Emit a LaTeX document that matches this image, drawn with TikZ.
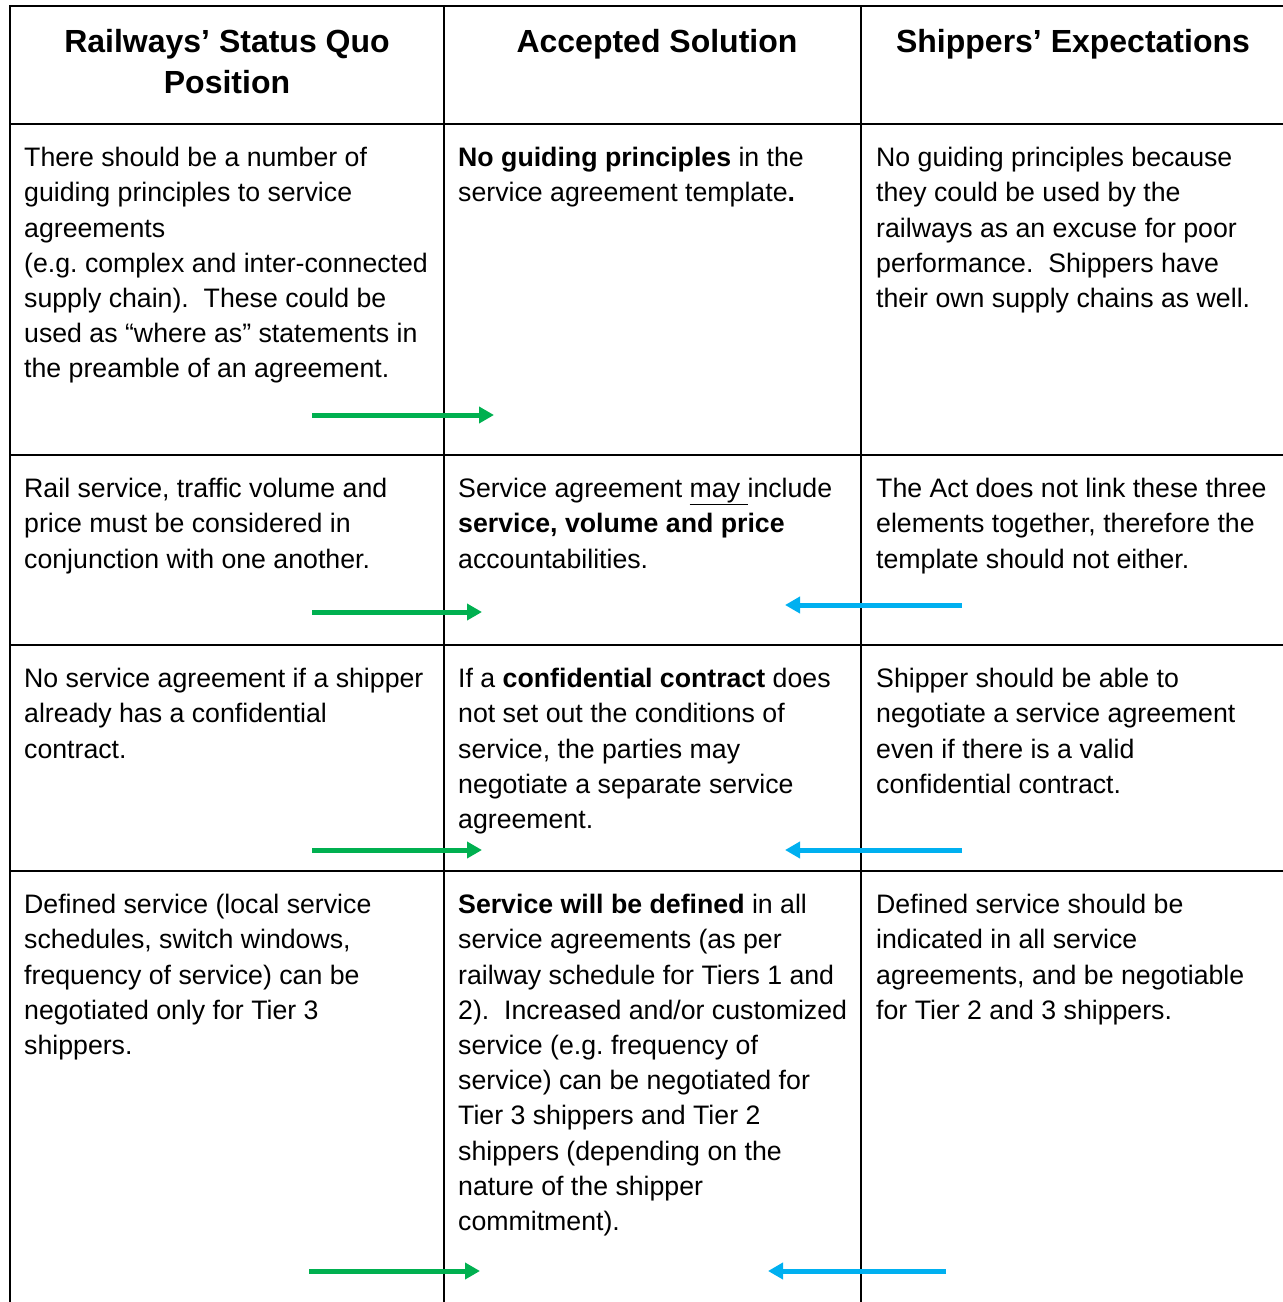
\documentclass[tikz,border=0pt]{standalone}
\usepackage{fontspec}
\setmainfont{Liberation Sans}
\usetikzlibrary{arrows.meta}
\definecolor{arrgreen}{RGB}{0,176,80}
\definecolor{arrblue}{RGB}{0,176,240}
\frenchspacing
\tikzset{
  grid/.style={line width=2pt, black},
  head/.style={inner sep=0pt, anchor=north, align=center, font=\fontsize{32}{41}\selectfont\bfseries},
  cell/.style={inner sep=0pt, anchor=north west, align=left, font=\fontsize{26.7}{35.2}\selectfont},
  garrow/.style={draw=arrgreen, line width=5pt, -{Triangle[length=15pt,width=16pt]}},
  barrow/.style={draw=arrblue, line width=5pt, -{Triangle[length=15pt,width=16pt]}}
}
\newcommand{\fs}{\rule{0pt}{20pt}}
\newcommand{\hs}{\rule{0pt}{25pt}}
\begin{document}
\begin{tikzpicture}[x=1pt,y=-1pt]
\useasboundingbox (0,0) rectangle (1283,1302);
% grid
\draw[grid] (10,1302) -- (10,6) -- (1283,6);
\draw[grid] (444,6) -- (444,1302);
\draw[grid] (861,6) -- (861,1302);
\draw[grid] (10,124) -- (1283,124);
\draw[grid] (10,455) -- (1283,455);
\draw[grid] (10,645) -- (1283,645);
\draw[grid] (10,871) -- (1283,871);
% headers
\node[head] (h1) at (227,27) {\hs Railways’ Status Quo\\Position};
\node[head] (h2) at (657,27) {\hs Accepted Solution};
\node[head] (h3) at (1073,27) {\hs Shippers’ Expectations};
% row 1
\node[cell] (r1a) at (24,146.5) {\fs There should be a number of\\guiding principles to service\\agreements\\(e.g. complex and inter-connected\\supply chain).\ \ These could be\\used as “where as” statements in\\the preamble of an agreement.};
\node[cell] (r1b) at (458,146.5) {\fs\textbf{No guiding principles} in the\\service agreement template\textbf{.}};
\node[cell] (r1c) at (876,146.5) {\fs No guiding principles because\\they could be used by the\\railways as an excuse for poor\\performance.\ \ Shippers have\\their own supply chains as well.};
% row 2
\node[cell] (r2a) at (24,477.5) {\fs Rail service, traffic volume and\\price must be considered in\\conjunction with one another.};
\node[cell] (r2b) at (458,477.5) {\fs Service agreement \underline{may\ }include\\\textbf{service, volume and price}\\accountabilities.};
\node[cell] (r2c) at (876,477.5) {\fs The Act does not link these three\\elements together, therefore the\\template should not either.};
% row 3
\node[cell] (r3a) at (24,667.5) {\fs No service agreement if a shipper\\already has a confidential\\contract.};
\node[cell] (r3b) at (458,667.5) {\fs If a \textbf{confidential contract} does\\not set out the conditions of\\service, the parties may\\negotiate a separate service\\agreement.};
\node[cell] (r3c) at (876,667.5) {\fs Shipper should be able to\\negotiate a service agreement\\even if there is a valid\\confidential contract.};
% row 4
\node[cell] (r4a) at (24,893.5) {\fs Defined service (local service\\schedules, switch windows,\\frequency of service) can be\\negotiated only for Tier 3\\shippers.};
\node[cell] (r4b) at (458,893.5) {\fs\textbf{Service will be defined} in all\\service agreements (as per\\railway schedule for Tiers 1 and\\2).\ \ Increased and/or customized\\service (e.g. frequency of\\service) can be negotiated for\\Tier 3 shippers and Tier 2\\shippers (depending on the\\nature of the shipper\\commitment).};
\node[cell] (r4c) at (876,893.5) {\fs Defined service should be\\indicated in all service\\agreements, and be negotiable\\for Tier 2 and 3 shippers.};
% arrows
\coordinate (g1s) at (312,415); \coordinate (g1e) at (494,415);
\coordinate (g2s) at (312,612); \coordinate (g2e) at (482,612);
\coordinate (b2s) at (962,605); \coordinate (b2e) at (785,605);
\coordinate (g3s) at (312,850); \coordinate (g3e) at (482,850);
\coordinate (b3s) at (962,850); \coordinate (b3e) at (785,850);
\coordinate (g4s) at (309,1271); \coordinate (g4e) at (480,1271);
\coordinate (b4s) at (946,1271); \coordinate (b4e) at (768,1271);
\draw[garrow] (g1s) -- (g1e);
\draw[garrow] (g2s) -- (g2e);
\draw[barrow] (b2s) -- (b2e);
\draw[garrow] (g3s) -- (g3e);
\draw[barrow] (b3s) -- (b3e);
\draw[garrow] (g4s) -- (g4e);
\draw[barrow] (b4s) -- (b4e);
\end{tikzpicture}
\end{document}
